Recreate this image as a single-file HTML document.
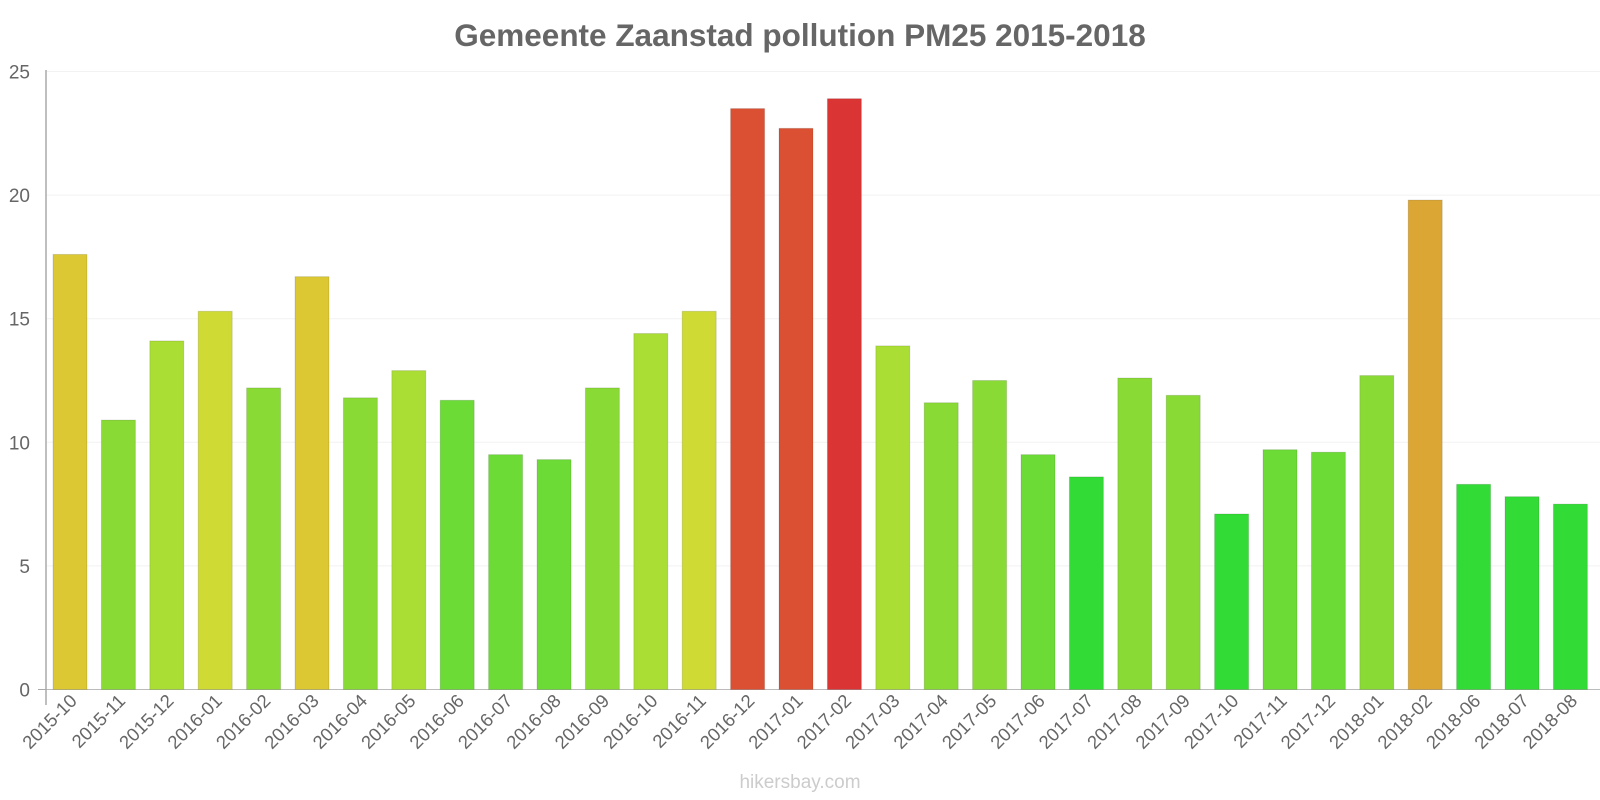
<!DOCTYPE html>
<html><head><meta charset="utf-8"><style>body{margin:0;background:#fff}svg{display:block;font-family:"Liberation Sans",sans-serif}</style></head>
<body>
<svg id="s" width="1600" height="800" xmlns="http://www.w3.org/2000/svg">
<text x="800" y="46" text-anchor="middle" font-size="31.5" font-weight="bold" fill="#666">Gemeente Zaanstad pollution PM25 2015-2018</text>
<g id="g"></g>
<text x="800" y="788" text-anchor="middle" font-size="19" fill="#ccc">hikersbay.com</text>
</svg>
<script>
var d=[["2015-10",17.6,"#dbc832"],["2015-11",10.9,"#8ada36"],["2015-12",14.1,"#aade34"],["2016-01",15.3,"#cfdb34"],["2016-02",12.2,"#8ada36"],["2016-03",16.7,"#dbc832"],["2016-04",11.8,"#8ada36"],["2016-05",12.9,"#aade34"],["2016-06",11.7,"#6cdb36"],["2016-07",9.5,"#6cdb36"],["2016-08",9.3,"#6cdb36"],["2016-09",12.2,"#8ada36"],["2016-10",14.4,"#aade34"],["2016-11",15.3,"#cfdb34"],["2016-12",23.5,"#db5032"],["2017-01",22.7,"#db5032"],["2017-02",23.9,"#db3434"],["2017-03",13.9,"#aade34"],["2017-04",11.6,"#8ada36"],["2017-05",12.5,"#8ada36"],["2017-06",9.5,"#6cdb36"],["2017-07",8.6,"#33db36"],["2017-08",12.6,"#8ada36"],["2017-09",11.9,"#8ada36"],["2017-10",7.1,"#33db36"],["2017-11",9.7,"#6cdb36"],["2017-12",9.6,"#6cdb36"],["2018-01",12.7,"#8ada36"],["2018-02",19.8,"#dba634"],["2018-06",8.3,"#33db36"],["2018-07",7.8,"#33db36"],["2018-08",7.5,"#33db36"]];
var y0=689.5,k=24.72,x0=46,bw=48.4,h='';
for(var v=0;v<=25;v+=5){var y=y0-v*k;h+='<line x1="'+x0+'" x2="1600" y1="'+y+'" y2="'+y+'" stroke="'+(v?'#f2f2f2':'#bbb')+'"/>';h+='<text x="30" y="'+(y+7)+'" text-anchor="end" font-size="19" fill="#666">'+v+'</text>';}
h+='<line x1="'+x0+'" x2="'+x0+'" y1="70" y2="705" stroke="#aaa" stroke-width="1.5"/><line x1="38" x2="46" y1="'+y0+'" y2="'+y0+'" stroke="#aaa"/>';
d.forEach(function(e,i){var x=x0+7+i*bw,hh=e[1]*k;h+='<rect x="'+x+'" y="'+(y0-hh)+'" width="34" height="'+hh+'" fill="'+e[2]+'" stroke="rgba(0,0,0,0.12)"/>';var cx=x+25,cy=702;h+='<text transform="translate('+cx+','+cy+') rotate(-45)" text-anchor="end" font-size="18.5" fill="#666">'+e[0]+'</text>';});
document.getElementById('g').innerHTML=h;
</script>
</body></html>
